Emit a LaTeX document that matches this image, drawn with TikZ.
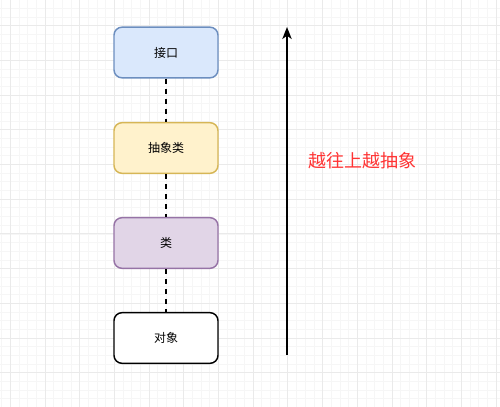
\documentclass[tikz,border=0pt]{standalone}
\usepackage{fontspec}
\newfontfamily\cjk{Noto Sans CJK SC}
\usetikzlibrary{arrows.meta}

\definecolor{ifacefill}{HTML}{DAE8FC}
\definecolor{ifacedraw}{HTML}{6C8EBF}
\definecolor{absfill}{HTML}{FFF2CC}
\definecolor{absdraw}{HTML}{D6B656}
\definecolor{clsfill}{HTML}{E1D5E7}
\definecolor{clsdraw}{HTML}{9673A6}
\definecolor{labelred}{HTML}{FF3333}
\definecolor{minorgrid}{HTML}{F6F6F6}
\definecolor{majorgrid}{HTML}{EAEAEA}

\newcommand*{\wmax}{500}
\newcommand*{\hmax}{407}

\begin{document}
\begin{tikzpicture}
[
	x=0.75pt, y=-0.75pt,
	level/.style={rectangle,rounded corners=6pt,line width=1.1pt,minimum width=78pt,minimum height=38pt,font=\cjk\fontsize{9}{11}\selectfont},
	link/.style={line width=1.5pt,dash pattern=on 3.75pt off 3.75pt},
	minorline/.style={minorgrid,line width=0.6pt},
	majorline/.style={majorgrid,line width=0.75pt}
]

	% background grid
	\useasboundingbox (0,0) rectangle (\wmax,\hmax);
	\fill[white] (0,0) rectangle (\wmax,\hmax);
	\foreach \i in {0,...,58} {
		\draw[minorline] ({1.6+8.675*\i},0) -- ({1.6+8.675*\i},\hmax);
	}
	\foreach \i in {0,...,47} {
		\draw[minorline] (0,{8.35+8.675*\i}) -- (\wmax,{8.35+8.675*\i});
	}
	\foreach \i in {0,...,14} {
		\draw[majorline] ({10.3+34.7*\i},0) -- ({10.3+34.7*\i},\hmax);
	}
	\foreach \i in {0,...,11} {
		\draw[majorline] (0,{25.7+34.7*\i}) -- (\wmax,{25.7+34.7*\i});
	}

	% levels
	\node[level,draw=ifacedraw,fill=ifacefill] (iface) at (166,52.5) {接口};
	\node[level,draw=absdraw,fill=absfill] (abstract) at (166,148) {抽象类};
	\node[level,draw=clsdraw,fill=clsfill] (cls) at (166,243) {类};
	\node[level,draw=black,fill=white] (obj) at (166,338) {对象};

	\draw[link] (iface) -- (abstract);
	\draw[link] (abstract) -- (cls);
	\draw[link] (cls) -- (obj);

	% direction
	\coordinate (bottom) at (287,355);
	\coordinate (top) at (287,27);
	\draw[-{Stealth[length=9pt,width=7pt,inset=2.5pt]},line width=1.5pt] (bottom) -- (top);
	\node[labelred,font=\cjk\fontsize{13.5}{16}\selectfont] (hint) at (362,161) {越往上越抽象};

\end{tikzpicture}
\end{document}
